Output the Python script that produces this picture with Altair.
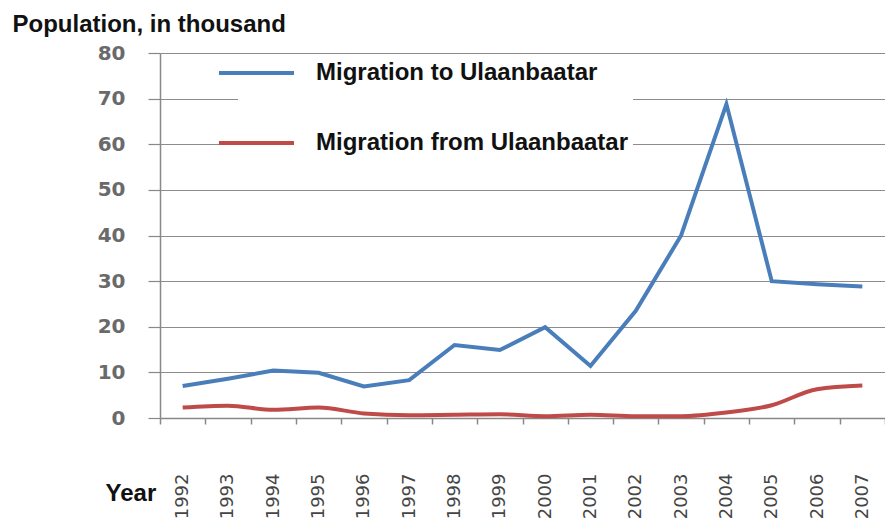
import altair as alt
import pandas as pd

years = ["1992", "1993", "1994", "1995", "1996", "1997", "1998", "1999",
         "2000", "2001", "2002", "2003", "2004", "2005", "2006", "2007"]
to_ub = [7.0, 8.6, 10.4, 9.9, 6.9, 8.3, 16.0, 14.9, 19.9, 11.4, 23.5, 40.0, 68.8, 30.0, 29.3, 28.8]
from_ub = [2.3, 2.7, 1.8, 2.3, 1.0, 0.6, 0.7, 0.8, 0.4, 0.7, 0.4, 0.4, 1.2, 2.8, 6.3, 7.1]
series_names = ["Migration to Ulaanbaatar", "Migration from Ulaanbaatar"]
colors = ["#4a7ebb", "#be4b48"]
y_ticks = [0, 10, 20, 30, 40, 50, 60, 70, 80]

rows = []
for y, v in zip(years, to_ub):
    rows.append({"year": y, "value": v, "series": series_names[0]})
for y, v in zip(years, from_ub):
    rows.append({"year": y, "value": v, "series": series_names[1]})
df = pd.DataFrame(rows)

TF = "Liberation Sans"

base = alt.Chart(df).encode(
    x=alt.X(
        "year:O",
        scale=alt.Scale(type="band", paddingInner=0, paddingOuter=0),
        bandPosition=0.5,
        axis=alt.Axis(
            title="Year", titleX=-55, titleY=82, titleAlign="left",
            titleBaseline="alphabetic", titleFont=TF, titleFontSize=24,
            titleFontWeight="bold", titleColor="#111111",
            labelAngle=-90, labelAlign="right", labelBaseline="middle",
            labelFont="DejaVu Sans", labelFontSize=18, labelColor="#454545",
            labelPadding=49, tickSize=6, tickBand="extent",
            tickColor="#888888", tickWidth=1.5,
            domainColor="#888888", domainWidth=1.5, grid=False,
        ),
    ),
    y=alt.Y(
        "value:Q",
        scale=alt.Scale(domain=[0, 80]),
        axis=alt.Axis(
            values=y_ticks, grid=True, gridColor="#8c8c8c", gridWidth=1.2,
            title="Population, in thousand", titleAngle=0, titleAlign="left",
            titleBaseline="alphabetic", titleX=-148, titleY=-22,
            titleFont=TF, titleFontSize=24, titleFontWeight="bold",
            titleColor="#111111",
            labelFont="DejaVu Sans", labelFontWeight="bold", labelFontSize=20,
            labelColor="#6a6a6a", labelPadding=23, tickSize=12,
            tickColor="#888888", tickWidth=1.2,
            domainColor="#888888", domainWidth=1.5,
        ),
    ),
    color=alt.Color(
        "series:N",
        scale=alt.Scale(domain=series_names, range=colors),
        legend=alt.Legend(
            title=None, orient="none", legendX=78, legendY=1.5,
            symbolType="M-3,0H3", symbolSize=625, symbolStrokeWidth=4,
            labelFont=TF, labelFontSize=24, labelFontWeight="bold",
            labelColor="#111111", labelOffset=45, rowPadding=43,
            padding=4, fillColor="white", labelLimit=500,
        ),
    ),
)

blue = base.transform_filter(alt.datum.series == series_names[0]).mark_line(
    strokeWidth=4, interpolate="linear")
red = base.transform_filter(alt.datum.series == series_names[1]).mark_line(
    strokeWidth=4, interpolate="monotone")

chart = alt.layer(blue, red).properties(
    width=725, height=365,
    padding={"left": 160, "top": 53, "right": 0, "bottom": 104},
    autosize=alt.AutoSizeParams(type="none"),
    background="white",
).configure_view(stroke=None)

chart.save("out.html", embed_options={"renderer": "svg", "actions": False})
